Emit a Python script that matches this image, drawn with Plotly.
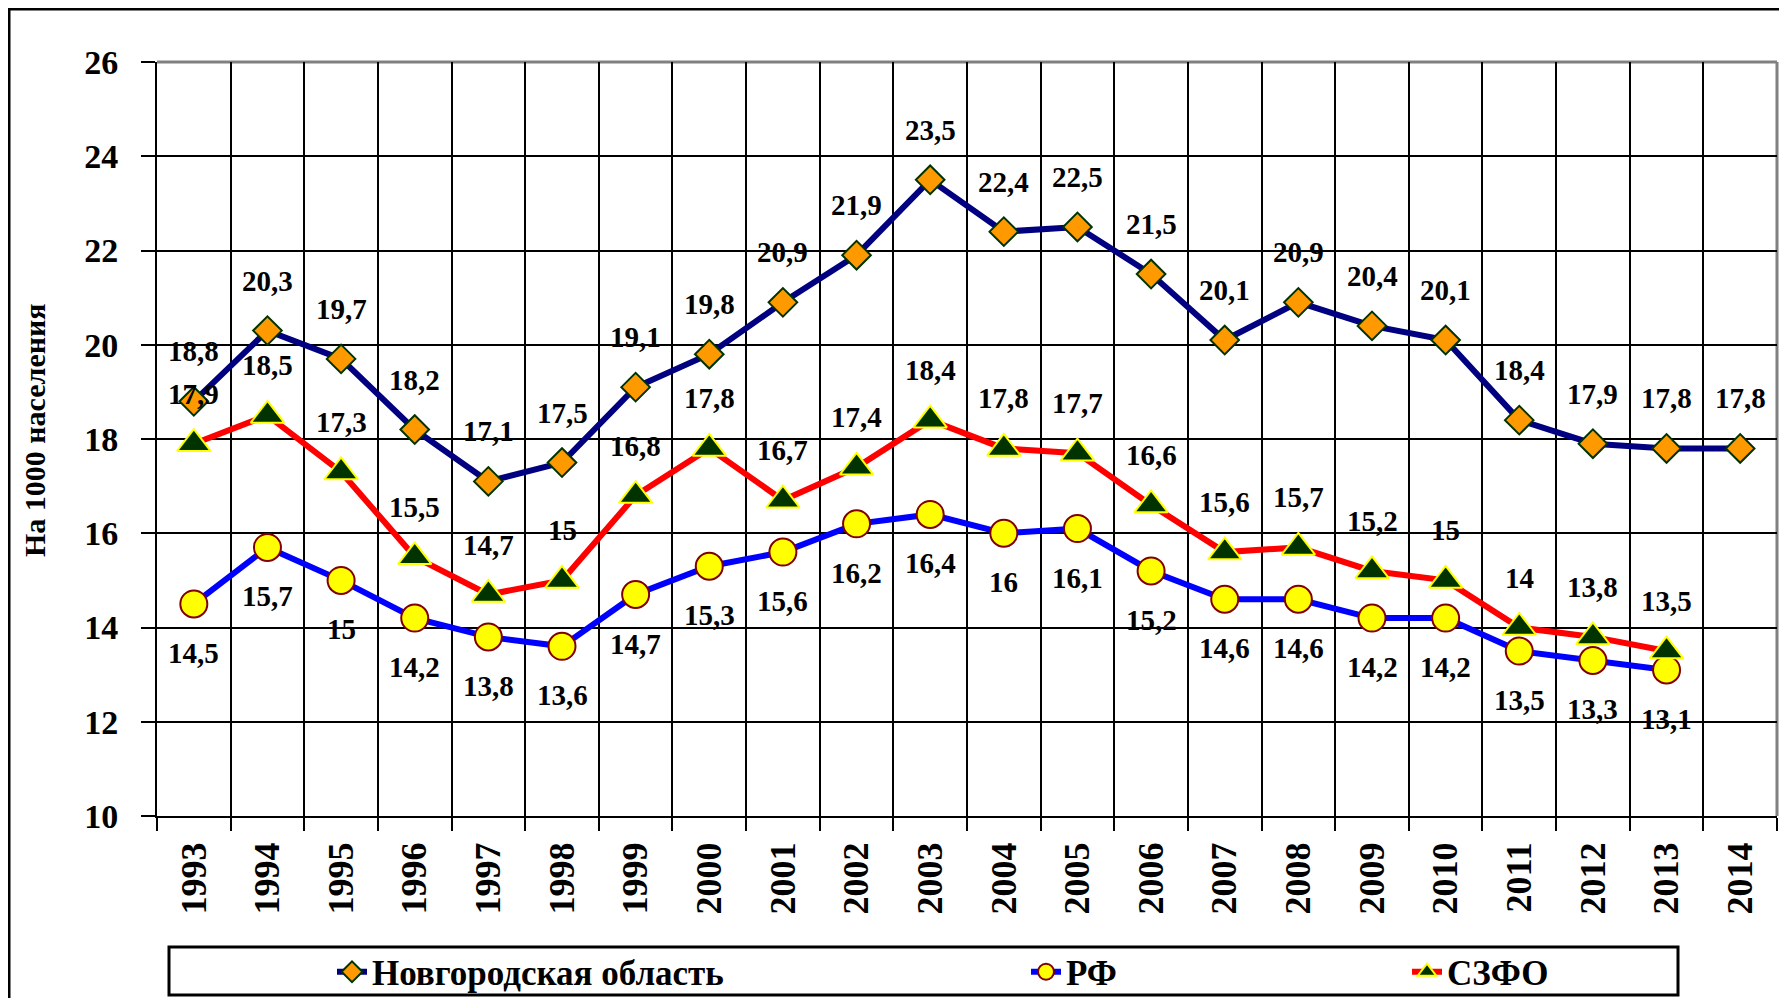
import plotly.graph_objects as go

years = ["1993", "1994", "1995", "1996", "1997", "1998", "1999", "2000", "2001", "2002", "2003",
         "2004", "2005", "2006", "2007", "2008", "2009", "2010", "2011", "2012", "2013", "2014"]
novgorod = [18.8, 20.3, 19.7, 18.2, 17.1, 17.5, 19.1, 19.8, 20.9, 21.9, 23.5,
            22.4, 22.5, 21.5, 20.1, 20.9, 20.4, 20.1, 18.4, 17.9, 17.8, 17.8]
rf = [14.5, 15.7, 15.0, 14.2, 13.8, 13.6, 14.7, 15.3, 15.6, 16.2, 16.4,
      16.0, 16.1, 15.2, 14.6, 14.6, 14.2, 14.2, 13.5, 13.3, 13.1]
szfo = [17.9, 18.5, 17.3, 15.5, 14.7, 15.0, 16.8, 17.8, 16.7, 17.4, 18.4,
        17.8, 17.7, 16.6, 15.6, 15.7, 15.2, 15.0, 14.0, 13.8, 13.5]
y_ticks = [10, 12, 14, 16, 18, 20, 22, 24, 26]

names = ["Новгородская область", "РФ", "СЗФО"]
y_title = "На 1000 населения"

FONT = "Liberation Serif, Times New Roman, serif"

# page offset (body margin) and figure size chosen to avoid scrollbars
OFF = 8
W, H = 1771, 990
# target plot area in screen pixels
SL, SR, ST, SB = 157, 1777, 62, 816
L, T = SL - OFF, ST - OFF
R = W - (SR - OFF)
B = H - (SB - OFF)
PW, PH = W - L - R, H - T - B


def px_x(p):
    return (p - OFF - L) / PW


def px_y(p):
    return (H - B - (p - OFF)) / PH


fig = go.Figure()

fig.add_trace(go.Scatter(
    x=years[:len(novgorod)], y=novgorod, name=names[0], mode="lines+markers",
    line=dict(color="#000080", width=6),
    marker=dict(symbol="diamond", size=22, color="#FF9900", line=dict(color="#003300", width=2)),
    legend="legend"))
fig.add_trace(go.Scatter(
    x=years[:len(rf)], y=rf, name=names[1], mode="lines+markers",
    line=dict(color="#0000FF", width=6),
    marker=dict(symbol="circle", size=27, color="#FFFF00", line=dict(color="#800000", width=2)),
    legend="legend2"))
fig.add_trace(go.Scatter(
    x=years[:len(szfo)], y=szfo, name=names[2], mode="lines+markers",
    line=dict(color="#FF0000", width=6),
    marker=dict(symbol="triangle-up", size=29, color="#003300", line=dict(color="#FFFF00", width=2)),
    legend="legend3"))


def fmt(v):
    s = ("%.1f" % v).rstrip("0").rstrip(".")
    return s.replace(".", ",")


annotations = []
label_font = dict(family=FONT, size=29, color="black", weight="bold")
for series, shift in ((novgorod, 50), (szfo, 50), (rf, -49)):
    for i, yv in enumerate(series):
        annotations.append(dict(x=i, y=yv, xref="x", yref="y", text=fmt(yv), showarrow=False,
                                yshift=shift, font=label_font, xanchor="center", yanchor="middle"))

annotations.append(dict(x=px_x(35), y=px_y(430), xref="paper", yref="paper", text=y_title,
                        textangle=-90, showarrow=False, xanchor="center", yanchor="middle",
                        font=dict(family=FONT, size=30, color="black", weight="bold")))

shapes = [
    # outer frame
    dict(type="rect", xref="paper", yref="paper", x0=px_x(9), x1=px_x(1820), y0=px_y(1040), y1=px_y(9),
         line=dict(color="black", width=3), layer="above"),
    # plot top/right gray border
    dict(type="line", xref="paper", yref="paper", x0=0, x1=1, y0=1, y1=1,
         line=dict(color="#808080", width=3), layer="between"),
    dict(type="line", xref="paper", yref="paper", x0=1, x1=1, y0=0, y1=1,
         line=dict(color="#808080", width=3), layer="between"),
    # legend box
    dict(type="rect", xref="paper", yref="paper", x0=px_x(169), x1=px_x(1678), y0=px_y(995), y1=px_y(947),
         line=dict(color="black", width=3), layer="above"),
]

legend_font = dict(family=FONT, size=35, color="black", weight="bold")
leg_y = px_y(972)
common_leg = dict(y=leg_y, yanchor="middle", xanchor="left", orientation="h",
                  bgcolor="rgba(0,0,0,0)", borderwidth=0, font=legend_font)

fig.update_layout(
    width=W, height=H,
    margin=dict(l=L, r=R, t=T, b=B, pad=0, autoexpand=False),
    paper_bgcolor="white", plot_bgcolor="white",
    font=dict(family=FONT, color="black"),
    showlegend=True,
    legend=dict(x=px_x(332), **common_leg),
    legend2=dict(x=px_x(1026), **common_leg),
    legend3=dict(x=px_x(1407), **common_leg),
    xaxis=dict(type="category", categoryorder="array", categoryarray=years,
               tickson="boundaries", ticks="outside", ticklen=13, tickwidth=2, tickcolor="black",
               showgrid=True, gridcolor="black", gridwidth=2,
               showline=True, linecolor="black", linewidth=2,
               tickangle=-90, ticklabelstandoff=10,
               tickfont=dict(family=FONT, size=36, color="black", weight="bold"),
               range=[-0.5, len(years) - 0.5], automargin=False),
    yaxis=dict(range=[10, 26], tickvals=y_ticks, ticks="outside", ticklen=14, tickwidth=2, tickcolor="black",
               showgrid=True, gridcolor="black", gridwidth=2, zeroline=False,
               showline=True, linecolor="black", linewidth=2, ticklabelstandoff=16,
               tickfont=dict(family=FONT, size=34, color="black", weight="bold"), automargin=False),
    annotations=annotations,
    shapes=shapes,
)

fig.write_html("out.html")
